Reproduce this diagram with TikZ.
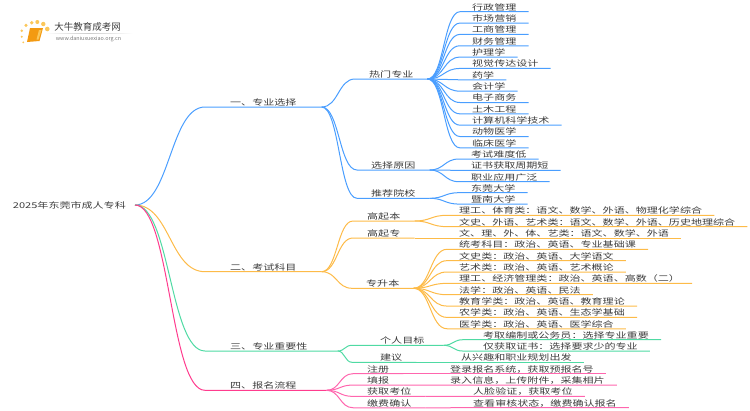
\documentclass[tikz,border=0pt]{standalone}
\usepackage{xcolor}
\usepackage{fontspec}
\setmainfont[FakeStretch=1.38]{Noto Sans CJK SC}
\newfontfamily\logofont{Noto Sans CJK SC}
\definecolor{textgray}{HTML}{3C3C3C}
\definecolor{urlgray}{HTML}{777777}
\definecolor{bluelink}{HTML}{4A9EFF}
\definecolor{orangelink}{HTML}{FDBB48}
\definecolor{greenlink}{HTML}{4FDAA3}
\definecolor{pinklink}{HTML}{FF66AE}
\definecolor{rootpink}{HTML}{FF3C8E}
\definecolor{bookorange}{HTML}{F39A12}
\definecolor{dotyellow}{HTML}{FBC75A}
\usetikzlibrary{positioning,calc}

\tikzset{link/.style={to path={let \p1=(\tikztostart), \p2=(\tikztotarget.south west), \n1={0.5*(\x1+\x2)} in
    .. controls (\n1,\y1) and (\n1,\y2) .. (\p2) -- (\tikztotarget.south east)}}}

\begin{document}
\begin{tikzpicture}[x=1pt, y=-1pt, node distance = 11.35pt,
    every node/.style={font=\fontsize{8}{10}\selectfont, text=textgray},
    root/.style={inner xsep=9pt, inner ysep=0pt, anchor=east},
    branch/.style={inner xsep=25pt, inner ysep=0pt, text height=7.5pt, text depth=1.4pt, anchor=south west},
    topic/.style={inner xsep=14pt, inner ysep=0pt, text height=7.5pt, text depth=1.4pt, anchor=south west},
    leaf/.style={inner xsep=12pt, inner ysep=0pt, text height=7.5pt, text depth=1.4pt, anchor=south west},
    blueline/.style={draw=bluelink, line width=1pt},
    orangeline/.style={draw=orangelink, line width=1pt},
    greenline/.style={draw=greenlink, line width=1pt},
    pinkline/.style={draw=pinklink, line width=1pt}]
    \useasboundingbox (0,0) rectangle (750,410);

    % logo
    \fill[dotyellow] (21.7,30.7) circle (1.4) (26,25.3) circle (1.7) (31.7,22.7) circle (1.9)
        (37.3,22) circle (2) (43.3,24) circle (2.2) (47.3,29) circle (2.3) (21.7,36.7) circle (1.1) (23.3,42.3) circle (1);
    \fill[bookorange] (30,28) -- (43,28) -- (39.5,41) -- (27,42) -- cycle;
    \fill[dotyellow] (39,30) -- (41.5,30) -- (38.5,39.5) -- (36.5,39.5) -- cycle;
    \shade[left color=white, right color=white, middle color=black!20] (45,33) rectangle (133,33.7);
    \node (logoname) at (87.5,27) {\logofont\fontsize{9.5}{11}\selectfont 大牛教育成考网};
    \node (logourl) [text=urlgray] at (88.5,39) {\logofont\fontsize{5.4}{6}\selectfont www.daniuxuexiao.org.cn};

    \node (root) [root] at (135,205) {2025年东莞市成人专科};
    \node (zyxz) [branch] at (205,107) {一、专业选择};
    \node (kskm) [branch] at (205,271.7) {二、考试科目};
    \node (zyzy) [branch] at (205,351) {三、专业重要性\hspace*{5pt}};
    \node (bmlc) [branch] at (205,390.3) {四、报名流程\hspace*{5pt}};

    % first branch
    \node (rmzy) [topic] at (355,79) {热门专业};
    \node (xzyy) [topic] at (357,170) {选择原因};
    \node (tjyx) [topic] at (357,198.3) {推荐院校};
    \node (xzgl) [leaf] at (460,11.7) {行政管理};
    \node (scyx) [leaf, below=of xzgl.south west, anchor=south west] {市场营销};
    \node (gsgl) [leaf, below=of scyx.south west, anchor=south west] {工商管理};
    \node (cwgl) [leaf, below=of gsgl.south west, anchor=south west] {财务管理};
    \node (hlx) [leaf, below=of cwgl.south west, anchor=south west] {护理学};
    \node (sjcd) [leaf, below=of hlx.south west, anchor=south west] {视觉传达设计};
    \node (yx) [leaf, below=of sjcd.south west, anchor=south west] {药学};
    \node (kjx) [leaf, below=of yx.south west, anchor=south west] {会计学};
    \node (dzsw) [leaf, below=of kjx.south west, anchor=south west] {电子商务};
    \node (tmgc) [leaf, below=of dzsw.south west, anchor=south west] {土木工程};
    \node (jsj) [leaf, below=of tmgc.south west, anchor=south west] {计算机科学技术};
    \node (dwyx) [leaf, below=of jsj.south west, anchor=south west] {动物医学};
    \node (lcyx) [leaf, below=of dwyx.south west, anchor=south west] {临床医学};
    \node (ksnd) [leaf] at (459,159) {考试难度低};
    \node (zshq) [leaf, below=of ksnd.south west, anchor=south west] {证书获取周期短};
    \node (zyyy) [leaf, below=of zshq.south west, anchor=south west] {职业应用广泛};
    \node (dgdx) [leaf] at (459,192.7) {东莞大学};
    \node (jndx) [leaf, below=of dgdx.south west, anchor=south west] {暨南大学};

    % second branch
    \node (gqb) [topic] at (353,221) {高起本};
    \node (gqz) [topic] at (353,238) {高起专};
    \node (zsb) [topic] at (352,288.3) {专升本};
    \node (lgty) [leaf] at (447,215.3) {理工、体育类：语文、数学、外语、物理化学综合};
    \node (wsyy) [leaf, below=of lgty.south west, anchor=south west] {文史、外语、艺术类：语文、数学、外语、历史地理综合};
    \node (wlwt) [leaf] at (447,238) {文、理、外、体、艺类：语文、数学、外语};
    \node (tkkm) [leaf] at (447,249.3) {统考科目：政治、英语、专业基础课};
    \node (wsl) [leaf, below=of tkkm.south west, anchor=south west] {文史类：政治、英语、大学语文};
    \node (ysl) [leaf, below=of wsl.south west, anchor=south west] {艺术类：政治、英语、艺术概论};
    \node (lgjj) [leaf, below=of ysl.south west, anchor=south west] {理工、经济管理类：政治、英语、高数（二）};
    \node (fx) [leaf, below=of lgjj.south west, anchor=south west] {法学：政治、英语、民法};
    \node (jyx) [leaf, below=of fx.south west, anchor=south west] {教育学类：政治、英语、教育理论};
    \node (nxl) [leaf, below=of jyx.south west, anchor=south west] {农学类：政治、英语、生态学基础};
    \node (yxl) [leaf, below=of nxl.south west, anchor=south west] {医学类：政治、英语、医学综合};

    % third branch
    \node (grmb) [topic] at (352,345.3) {\hspace*{14pt}个人目标\hspace*{5pt}};
    \node (jy) [topic] at (352,362.3) {\hspace*{14pt}建议};
    \node (kqbz) [leaf] at (463,339.7) {\hspace*{8pt}考取编制或公务员：选择专业重要};
    \node (jhqz) [leaf, below=of kqbz.south west, anchor=south west] {\hspace*{8pt}仅获取证书：选择要求少的专业};
    \node (xqzy) [leaf] at (449,362.3) {从兴趣和职业规划出发};

    % fourth branch
    \node (zc) [topic] at (353,373.7) {注册};
    \node (tb) [topic, below=of zc.south west, anchor=south west] {填报};
    \node (hqkw) [topic, below=of tb.south west, anchor=south west] {获取考位};
    \node (jfqr) [topic, below=of hqkw.south west, anchor=south west] {缴费确认};
    \node (dlbm) [leaf] at (438,373.7) {登录报名系统，获取预报名号};
    \node (lrxx) [leaf] at (438,385) {录入信息，上传附件，采集相片};
    \node (rlyz) [leaf] at (461,396.3) {人脸验证，获取考位};
    \node (ckzt) [leaf] at (461,407.7) {查看审核状态，缴费确认报名};

    \draw[blueline] (root.east) to[link] (zyxz);
    \draw[orangeline] (root.east) to[link] (kskm);
    \draw[greenline] (root.east) to[link] (zyzy);
    \draw[draw=rootpink, line width=1pt] (root.east) to[link] (bmlc);

    \draw[blueline] (zyxz.south east) to[link] (rmzy);
    \draw[blueline] (zyxz.south east) to[link] (xzyy);
    \draw[blueline] (zyxz.south east) to[link] (tjyx);
    \draw[blueline] (rmzy.south east) to[link] (xzgl);
    \draw[blueline] (rmzy.south east) to[link] (scyx);
    \draw[blueline] (rmzy.south east) to[link] (gsgl);
    \draw[blueline] (rmzy.south east) to[link] (cwgl);
    \draw[blueline] (rmzy.south east) to[link] (hlx);
    \draw[blueline] (rmzy.south east) to[link] (sjcd);
    \draw[blueline] (rmzy.south east) to[link] (yx);
    \draw[blueline] (rmzy.south east) to[link] (kjx);
    \draw[blueline] (rmzy.south east) to[link] (dzsw);
    \draw[blueline] (rmzy.south east) to[link] (tmgc);
    \draw[blueline] (rmzy.south east) to[link] (jsj);
    \draw[blueline] (rmzy.south east) to[link] (dwyx);
    \draw[blueline] (rmzy.south east) to[link] (lcyx);
    \draw[blueline] (xzyy.south east) to[link] (ksnd);
    \draw[blueline] (xzyy.south east) to[link] (zshq);
    \draw[blueline] (xzyy.south east) to[link] (zyyy);
    \draw[blueline] (tjyx.south east) to[link] (dgdx);
    \draw[blueline] (tjyx.south east) to[link] (jndx);

    \draw[orangeline] (kskm.south east) to[link] (gqb);
    \draw[orangeline] (kskm.south east) to[link] (gqz);
    \draw[orangeline] (kskm.south east) to[link] (zsb);
    \draw[orangeline] (gqb.south east) to[link] (lgty);
    \draw[orangeline] (gqb.south east) to[link] (wsyy);
    \draw[orangeline] (gqz.south east) -- (wlwt.south east);
    \draw[orangeline] (zsb.south east) to[link] (tkkm);
    \draw[orangeline] (zsb.south east) to[link] (wsl);
    \draw[orangeline] (zsb.south east) to[link] (ysl);
    \draw[orangeline] (zsb.south east) to[link] (lgjj);
    \draw[orangeline] (zsb.south east) to[link] (fx);
    \draw[orangeline] (zsb.south east) to[link] (jyx);
    \draw[orangeline] (zsb.south east) to[link] (nxl);
    \draw[orangeline] (zsb.south east) to[link] (yxl);

    \draw[greenline] (zyzy.south east) to[link] (grmb);
    \draw[greenline] (zyzy.south east) to[link] (jy);
    \draw[greenline] (grmb.south east) to[link] (kqbz);
    \draw[greenline] (grmb.south east) to[link] (jhqz);
    \draw[greenline] (jy.south east) -- (xqzy.south east);

    \draw[pinkline] (bmlc.south east) to[link] (zc);
    \draw[pinkline] (bmlc.south east) to[link] (tb);
    \draw[pinkline] (bmlc.south east) to[link] (hqkw);
    \draw[pinkline] (bmlc.south east) to[link] (jfqr);
    \draw[pinkline] (zc.south east) -- (dlbm.south east);
    \draw[pinkline] (tb.south east) -- (lrxx.south east);
    \draw[pinkline] (hqkw.south east) -- (rlyz.south east);
    \draw[pinkline] (jfqr.south east) -- (ckzt.south east);
\end{tikzpicture}
\end{document}
